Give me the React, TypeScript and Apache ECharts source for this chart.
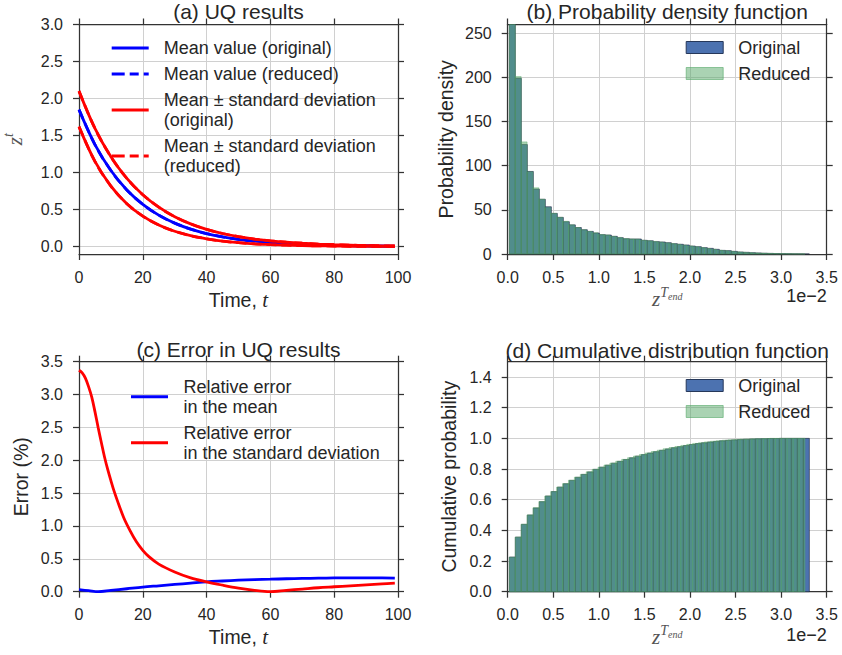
import React, { useEffect, useRef } from "react";
import * as echarts from "echarts";

// ---------- (a) UQ results ----------
const timeA = [0, 5, 10, 15, 20, 25, 30, 35, 40, 45, 50, 55, 60, 65, 70, 75, 80, 85, 90, 95, 99];
const meanOriginal = [1.85, 1.378, 1.027, 0.765, 0.571, 0.425, 0.317, 0.236, 0.176, 0.131, 0.098, 0.073, 0.054, 0.04, 0.03, 0.022, 0.017, 0.012, 0.009, 0.007, 0.005];
const meanReduced = [1.85, 1.378, 1.027, 0.765, 0.571, 0.425, 0.317, 0.236, 0.176, 0.131, 0.098, 0.073, 0.054, 0.04, 0.03, 0.022, 0.017, 0.012, 0.009, 0.007, 0.005];
const upperOriginal = [2.1, 1.596, 1.213, 0.921, 0.7, 0.532, 0.404, 0.307, 0.233, 0.177, 0.135, 0.102, 0.078, 0.059, 0.045, 0.034, 0.026, 0.02, 0.015, 0.011, 0.009];
const lowerOriginal = [1.62, 1.15, 0.817, 0.58, 0.412, 0.292, 0.207, 0.147, 0.105, 0.074, 0.053, 0.037, 0.027, 0.019, 0.013, 0.01, 0.007, 0.005, 0.004, 0.003, 0.002];
const upperReduced = [2.1, 1.596, 1.213, 0.921, 0.7, 0.532, 0.404, 0.307, 0.233, 0.177, 0.135, 0.102, 0.078, 0.059, 0.045, 0.034, 0.026, 0.02, 0.015, 0.011, 0.009];
const lowerReduced = [1.62, 1.15, 0.817, 0.58, 0.412, 0.292, 0.207, 0.147, 0.105, 0.074, 0.053, 0.037, 0.027, 0.019, 0.013, 0.01, 0.007, 0.005, 0.004, 0.003, 0.002];
const ticksA = [0, 0.5, 1.0, 1.5, 2.0, 2.5, 3.0];

// ---------- (c) Error in UQ results ----------
const timeErrMean = [0, 3, 6, 10, 15, 20, 25, 30, 35, 40, 45, 50, 55, 60, 65, 70, 75, 80, 85, 90, 95, 99];
const errMean = [0.03, 0.015, 0.0, 0.02, 0.045, 0.07, 0.09, 0.11, 0.13, 0.15, 0.163, 0.175, 0.183, 0.19, 0.197, 0.202, 0.206, 0.209, 0.21, 0.21, 0.21, 0.208];
const timeErrStd = [0, 1, 2, 3, 4, 5, 6, 7, 8, 9, 10, 11, 12, 14, 16, 18, 20, 22, 25, 30, 35, 40, 45, 50, 55, 60, 65, 70, 75, 80, 85, 90, 95, 99];
const errStd = [3.37, 3.33, 3.25, 3.12, 2.96, 2.74, 2.5, 2.27, 2.05, 1.86, 1.69, 1.53, 1.39, 1.13, 0.93, 0.76, 0.63, 0.53, 0.42, 0.3, 0.21, 0.15, 0.1, 0.055, 0.02, 0.0, 0.02, 0.04, 0.06, 0.075, 0.09, 0.105, 0.12, 0.13];

// ---------- (b) PDF / (d) CDF histograms (x in units of 1e-2) ----------
const originalRange = [0.018, 3.31];
const reducedRange = [0.018, 3.262];
const densityOriginal = [342, 199, 124, 93.5, 73.5, 62, 53.5, 46, 41.5, 36.6, 33, 30, 27.5, 25.6, 23.8, 21.9, 21.5, 20, 18.5, 17.3, 17, 17, 15.5, 15, 14, 13.6, 12.8, 11.7, 11, 10.2, 9, 8.3, 7.2, 6.4, 5.3, 4.1, 3.8, 3, 2.3, 1.9, 1.5, 1.2, 0.9, 0.7, 0.5, 0.35, 0.25, 0.15, 0.1, 0.05];
const densityReduced = [340, 201, 127, 93, 75, 62, 52.5, 46, 41.5, 37, 33, 30, 27.5, 25.5, 24, 22, 21.5, 20, 18.8, 17.5, 17, 16.8, 15.6, 15, 14.2, 13.5, 12.6, 11.8, 11, 10, 9.1, 8.2, 7.3, 6.3, 5.4, 4.2, 3.7, 3, 2.4, 1.9, 1.5, 1.2, 0.9, 0.7, 0.5, 0.35, 0.25, 0.15, 0.1, 0.05];
const cdfOriginal = [0.226, 0.356, 0.439, 0.5, 0.546, 0.587, 0.624, 0.653, 0.682, 0.704, 0.726, 0.746, 0.765, 0.781, 0.798, 0.812, 0.825, 0.838, 0.85, 0.862, 0.873, 0.884, 0.894, 0.904, 0.913, 0.922, 0.931, 0.939, 0.946, 0.953, 0.96, 0.966, 0.971, 0.976, 0.98, 0.984, 0.987, 0.99, 0.992, 0.994, 0.996, 0.997, 0.998, 0.999, 0.999, 1.0, 1.0, 1.0, 1.0, 1.0];
const cdfReduced = [0.224, 0.356, 0.44, 0.501, 0.548, 0.588, 0.624, 0.653, 0.682, 0.705, 0.727, 0.747, 0.765, 0.782, 0.798, 0.812, 0.826, 0.839, 0.851, 0.863, 0.874, 0.885, 0.895, 0.905, 0.914, 0.923, 0.932, 0.94, 0.947, 0.954, 0.961, 0.967, 0.972, 0.977, 0.981, 0.985, 0.988, 0.991, 0.993, 0.995, 0.996, 0.997, 0.998, 0.999, 1.0, 1.0, 1.0, 1.0, 1.0, 1.0];
const densityTicks = [0, 50, 100, 150, 200, 250];
const cdfTicks = [0, 0.2, 0.4, 0.6, 0.8, 1.0, 1.2, 1.4];

const FONT = "'Liberation Sans', Arial, Helvetica, sans-serif";
const SERIF = "'Liberation Serif', 'DejaVu Serif', serif";
const TEXT = "#262626";
const MATH = "#555555";
const BLUE_BAR = "#4C72B0";
const GREEN_BAR = "rgba(85,168,104,0.5)";

const spine = { color: "#333333", width: 1.25 };
const gridLine = { show: true, lineStyle: { color: "#d0d0d0", width: 1 } };
const tickLbl = { fontSize: 16, color: TEXT, fontFamily: FONT };

const grids = [
  { left: 79, top: 24.5, width: 319, height: 229.5 },
  { left: 507.7, top: 24.5, width: 319, height: 229.5 },
  { left: 79, top: 361.7, width: 319, height: 230 },
  { left: 507.7, top: 361.7, width: 319, height: 230 },
];

const f1 = (v: number) => v.toFixed(1);
const f0 = (v: number) => String(Math.round(v));

function xPrimary(gi: number, min: number, max: number, interval: number, fmt: any, name: string, nameGap: number, rich: any) {
  return {
    type: "value", gridIndex: gi, position: "bottom", min, max, interval,
    axisLine: { show: true, onZero: false, lineStyle: spine },
    axisTick: { show: true, inside: false, length: 6, lineStyle: spine },
    axisLabel: { ...tickLbl, margin: 15, formatter: fmt },
    splitLine: gridLine,
    name, nameLocation: "middle", nameGap,
    nameTextStyle: { fontSize: 19.5, color: TEXT, fontFamily: FONT, rich },
  };
}
function xSecondary(gi: number, min: number, max: number, interval: number) {
  return {
    type: "value", gridIndex: gi, position: "top", min, max, interval,
    axisLine: { show: true, onZero: false, lineStyle: spine },
    axisTick: { show: true, inside: false, length: 6, lineStyle: spine },
    axisLabel: { show: false }, splitLine: { show: false },
  };
}
function yPrimary(gi: number, min: number, max: number, interval: any, ticks: number[] | null, fmt: any, name: string, nameGap: number, rich: any) {
  const ax: any = {
    type: "value", gridIndex: gi, position: "left", min, max,
    axisLine: { show: true, onZero: false, lineStyle: spine },
    axisTick: { show: true, inside: false, length: 6, lineStyle: spine },
    axisLabel: { ...tickLbl, margin: 16, formatter: fmt },
    splitLine: gridLine,
    name, nameLocation: "middle", nameGap,
    nameTextStyle: { fontSize: 19.5, color: TEXT, fontFamily: FONT, rich },
  };
  if (interval) ax.interval = interval;
  if (ticks) { ax.axisTick.customValues = ticks; ax.axisLabel.customValues = ticks; }
  return ax;
}
function ySecondary(gi: number, min: number, max: number, interval: any, ticks: number[] | null) {
  const ax: any = {
    type: "value", gridIndex: gi, position: "right", min, max,
    axisLine: { show: true, onZero: false, lineStyle: spine },
    axisTick: { show: true, inside: false, length: 6, lineStyle: spine },
    axisLabel: { show: false }, splitLine: { show: false },
  };
  if (interval) ax.interval = interval;
  if (ticks) { ax.axisTick.customValues = ticks; ax.axisLabel.customValues = ticks; }
  return ax;
}

function lineSeries(name: string, xs: number[], ys: number[], color: string, dashed: boolean, ai: number) {
  return {
    type: "line", name, xAxisIndex: ai, yAxisIndex: ai,
    data: xs.map((t, i) => [t, ys[i]]),
    symbol: "none", smooth: 0.35,
    lineStyle: { color, width: 2.8, type: dashed ? [10, 5] : "solid" },
    itemStyle: { color },
  };
}

function histSeries(name: string, range: number[], values: number[], ai: number, fill: string, stroke: string) {
  const w = (range[1] - range[0]) / values.length;
  return {
    type: "custom", name, xAxisIndex: ai, yAxisIndex: ai,
    encode: { x: [0, 1], y: 2 },
    itemStyle: { color: fill },
    data: values.map((v, i) => [range[0] + i * w, range[0] + (i + 1) * w, v]),
    renderItem: (params: any, api: any) => {
      const a = api.coord([api.value(0), 0]);
      const b = api.coord([api.value(1), api.value(2)]);
      const cs = params.coordSys;
      const rect = echarts.graphic.clipRectByRect(
        { x: a[0], y: b[1], width: b[0] - a[0], height: a[1] - b[1] },
        { x: cs.x, y: cs.y, width: cs.width, height: cs.height }
      );
      if (!rect) return null;
      return { type: "rect", shape: rect, style: { fill, stroke, lineWidth: 0.8 } };
    },
  };
}

const zRich = {
  z: { fontFamily: SERIF, fontStyle: "italic", fontSize: 21, color: MATH, lineHeight: 24, verticalAlign: "bottom" },
  t: { fontFamily: SERIF, fontStyle: "italic", fontSize: 14, color: MATH, lineHeight: 13, verticalAlign: "top" },
};
const timeRich = {
  n: { fontFamily: FONT, fontSize: 19.5, color: TEXT },
  i: { fontFamily: SERIF, fontStyle: "italic", fontSize: 21, color: TEXT },
};
const zendRich = {
  z: { fontFamily: SERIF, fontStyle: "italic", fontSize: 21, color: MATH, lineHeight: 24, verticalAlign: "bottom" },
  T: { fontFamily: SERIF, fontStyle: "italic", fontSize: 14, color: MATH, lineHeight: 13, verticalAlign: "top" },
  e: { fontFamily: SERIF, fontStyle: "italic", fontSize: 10, color: MATH, lineHeight: 10, verticalAlign: "top", padding: [6, 0, 0, 0] },
};

const nameMeanO = "Mean value (original)";
const nameMeanR = "Mean value (reduced)";
const nameSdO = "Mean \u00b1 standard deviation\n(original)";
const nameSdR = "Mean \u00b1 standard deviation\n(reduced)";
const nameErrM = "Relative error\nin the mean";
const nameErrS = "Relative error\nin the standard deviation";

const SOLID_ICON = "path://M0,0H37V3H0Z";
const DASH_ICON = "path://M0,0H13V3H0Z M18,0H27V3H18Z M32,0H37V3H32Z";

const legendText = { fontSize: 18, color: TEXT, fontFamily: FONT, lineHeight: 20, padding: [0, 0, 0, 10] };
const barLegendData = [
  { name: "Original", icon: "rect", itemStyle: { color: BLUE_BAR, borderColor: "#26385a", borderWidth: 1 } },
  { name: "Reduced", icon: "rect", itemStyle: { color: GREEN_BAR, borderColor: "rgba(85,168,104,0.6)", borderWidth: 1 } },
];
const lineLegendItem = (name: string, color: string, dashed: boolean) => ({
  name, icon: dashed ? DASH_ICON : SOLID_ICON, itemStyle: { color, borderWidth: 0 },
});

function titleAt(text: string, x: number, y: number) {
  return {
    text, left: x, top: y, textAlign: "center", textVerticalAlign: "middle", padding: 0,
    textStyle: { fontSize: 21, fontWeight: "normal", color: TEXT, fontFamily: FONT },
  };
}

const option: any = {
  animation: false,
  backgroundColor: "#ffffff",
  title: [
    titleAt("(a) UQ results", 238.5, 11),
    titleAt("(b) Probability density function", 667.2, 11),
    titleAt("(c) Error in UQ results", 238.5, 349),
    titleAt("(d) Cumulative distribution function", 667.2, 350),
  ],
  grid: grids.map((g) => ({ ...g, containLabel: false, outerBoundsMode: "none" })),
  legend: [
    { orient: "vertical", left: 111.7, top: 38, padding: 0, itemGap: 6, itemWidth: 37, itemHeight: 3, selectedMode: false,
      data: [
        lineLegendItem(nameMeanO, "#0000ff", false),
        lineLegendItem(nameMeanR, "#0000ff", true),
        lineLegendItem(nameSdO, "#ff0000", false),
        lineLegendItem(nameSdR, "#ff0000", true),
      ], textStyle: legendText },
    { orient: "vertical", left: 685.7, top: 37.5, padding: 0, itemGap: 6, itemWidth: 37, itemHeight: 12, selectedMode: false,
      data: barLegendData, textStyle: legendText },
    { orient: "vertical", left: 131, top: 376.7, padding: 0, itemGap: 6, itemWidth: 38, itemHeight: 3, selectedMode: false,
      data: [lineLegendItem(nameErrM, "#0000ff", false), lineLegendItem(nameErrS, "#ff0000", false)], textStyle: legendText },
    { orient: "vertical", left: 685.7, top: 375.5, padding: 0, itemGap: 6, itemWidth: 37, itemHeight: 12, selectedMode: false,
      data: barLegendData, textStyle: legendText },
  ],
  xAxis: [
    xPrimary(0, 0, 100, 20, f0, "{n|Time, }{i|t}", 35, timeRich),
    xPrimary(1, 0, 3.5, 0.5, f1, "{z|z}{T|T}{e|end}", 30, zendRich),
    xPrimary(2, 0, 100, 20, f0, "{n|Time, }{i|t}", 35, timeRich),
    xPrimary(3, 0, 3.5, 0.5, f1, "{z|z}{T|T}{e|end}", 30, zendRich),
    xSecondary(0, 0, 100, 20),
    xSecondary(1, 0, 3.5, 0.5),
    xSecondary(2, 0, 100, 20),
    xSecondary(3, 0, 3.5, 0.5),
  ],
  yAxis: [
    yPrimary(0, -0.1, 3.0, null, ticksA, f1, "{z|z}{t|t}", 54, zRich),
    yPrimary(1, 0, 260, 50, densityTicks, f0, "Probability density", 52, undefined),
    yPrimary(2, 0, 3.5, 0.5, null, f1, "Error (%)", 48, undefined),
    yPrimary(3, 0, 1.5, 0.2, cdfTicks, f1, "Cumulative probability", 48.5, undefined),
    ySecondary(0, -0.1, 3.0, null, ticksA),
    ySecondary(1, 0, 260, 50, densityTicks),
    ySecondary(2, 0, 3.5, 0.5, null),
    ySecondary(3, 0, 1.5, 0.2, cdfTicks),
  ],
  graphic: [
    { type: "text", x: 826.7, y: 296, style: { text: "1e\u22122", fill: TEXT, fontSize: 18, fontFamily: FONT, align: "right", verticalAlign: "middle" } },
    { type: "text", x: 826.7, y: 635, style: { text: "1e\u22122", fill: TEXT, fontSize: 18, fontFamily: FONT, align: "right", verticalAlign: "middle" } },
  ],
  series: [
    lineSeries(nameMeanO, timeA, meanOriginal, "#0000ff", false, 0),
    lineSeries(nameMeanR, timeA, meanReduced, "#0000ff", true, 0),
    lineSeries(nameSdO, timeA, upperOriginal, "#ff0000", false, 0),
    lineSeries(nameSdO, timeA, lowerOriginal, "#ff0000", false, 0),
    lineSeries(nameSdR, timeA, upperReduced, "#ff0000", true, 0),
    lineSeries(nameSdR, timeA, lowerReduced, "#ff0000", true, 0),
    histSeries("Original", originalRange, densityOriginal, 1, BLUE_BAR, "rgba(25,35,55,0.75)"),
    histSeries("Reduced", reducedRange, densityReduced, 1, GREEN_BAR, "rgba(85,168,104,0.5)"),
    lineSeries(nameErrM, timeErrMean, errMean, "#0000ff", false, 2),
    lineSeries(nameErrS, timeErrStd, errStd, "#ff0000", false, 2),
    histSeries("Original", originalRange, cdfOriginal, 3, BLUE_BAR, "rgba(25,35,55,0.75)"),
    histSeries("Reduced", reducedRange, cdfReduced, 3, GREEN_BAR, "rgba(85,168,104,0.5)"),
  ],
};

export default function App() {
  const ref = useRef<HTMLDivElement>(null);
  useEffect(() => {
    const chart = echarts.init(ref.current as HTMLDivElement, null, { renderer: "svg" });
    chart.setOption(option);
    return () => chart.dispose();
  }, []);
  return (
    <div
      ref={ref}
      style={{ position: "fixed", left: 0, top: 0, width: 842, height: 655, background: "#ffffff" }}
    />
  );
}
